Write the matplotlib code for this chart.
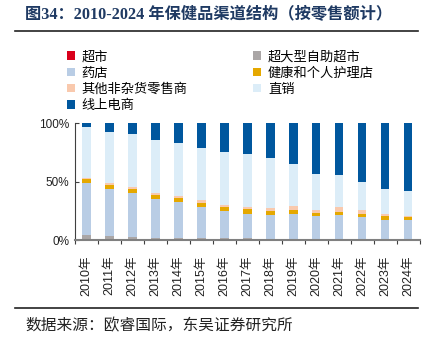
import matplotlib
matplotlib.use("Agg")
import matplotlib.pyplot as plt
from matplotlib.lines import Line2D
from matplotlib.patches import Patch
import numpy as np

plt.rcParams['font.family'] = ['Liberation Sans', 'Noto Sans CJK SC', 'DejaVu Sans']

years = [str(y) + '年' for y in range(2010, 2025)]
channels = ['超市', '超大型自助超市', '药店', '健康和个人护理店', '其他非杂货零售商', '直销', '线上电商']
colors = ['#d9001b', '#aaa6a6', '#b9cde5', '#e5a800', '#f9c9ad', '#dcedf8', '#00579e']

supermarket = [0.6, 0.5, 0.5, 0.4, 0.4, 0.4, 0.3, 0.3, 0.3, 0.3, 0.3, 0.3, 0.3, 0.3, 0.3]
hypermarket = [3.4, 2.9, 2.1, 1.8, 1.4, 1.2, 1.2, 1.1, 1.0, 0.9, 0.9, 0.9, 0.9, 0.8, 0.8]
pharmacy = [45.0, 40.0, 38.0, 33.2, 30.5, 27.0, 23.1, 21.2, 20.4, 21.4, 19.4, 19.9, 18.2, 16.3, 16.3]
health_store = [3.4, 3.5, 3.4, 3.5, 4.0, 3.4, 3.4, 3.7, 3.4, 3.4, 2.5, 3.2, 3.2, 2.9, 2.6]
other_retail = [1.1, 1.7, 1.2, 1.1, 1.1, 2.0, 1.7, 2.3, 2.6, 2.9, 2.9, 3.7, 2.8, 1.7, 0.9]
direct_sales = [43.5, 43.4, 45.4, 45.7, 45.2, 44.9, 46.0, 44.8, 42.6, 36.0, 30.9, 27.4, 24.6, 21.4, 21.1]
online = [3.0, 8.0, 9.4, 14.3, 17.4, 21.1, 24.3, 26.6, 29.7, 35.1, 43.1, 44.6, 50.0, 56.6, 58.0]

series = [supermarket, hypermarket, pharmacy, health_store, other_retail, direct_sales, online]

fig = plt.figure(figsize=(4.24, 3.42), dpi=100)
ax = fig.add_axes([0.177, 0.298, 0.813, 0.342])

x = np.arange(len(years))
bottom = np.zeros(len(years))
handles = []
for name, vals, c in zip(channels, series, colors):
    ax.bar(x, vals, width=0.36, bottom=bottom, color=c, label=name)
    bottom += np.array(vals)
    handles.append(Patch(facecolor=c, label=name))

ax.set_xlim(-0.5, len(years) - 0.5)
ax.set_ylim(0, 100)
ax.set_yticks([0, 50, 100])
ax.set_yticklabels(['0%', '50%', '100%'], fontsize=8.5, color='#222222')
ax.tick_params(axis='y', direction='in', length=3, width=0.8, color='#404040', pad=4)

ax.set_xticks(x)
ax.set_xticklabels(years, rotation=90, fontsize=9, color='#222222')
ax.tick_params(axis='x', length=0, pad=11)
ax.set_xticks(np.arange(len(years) + 1) - 0.5, minor=True)
ax.tick_params(axis='x', which='minor', direction='out', length=3, width=0.8, color='#404040')

for s in ['top', 'right']:
    ax.spines[s].set_visible(False)
ax.spines['left'].set_color('#404040')
ax.spines['left'].set_linewidth(0.8)
ax.spines['bottom'].set_color('#808080')
ax.spines['bottom'].set_linewidth(1.5)

# legend filled column-wise, so reorder to read row by row
order = [0, 2, 4, 6, 1, 3, 5]
fig.legend([handles[i] for i in order], [channels[i] for i in order],
           ncol=2, loc='upper left', bbox_to_anchor=(0.13, 0.888), frameon=False,
           handlelength=0.6, handleheight=0.6, handletextpad=0.5,
           columnspacing=5.0, labelspacing=0.25, prop={'family': ['Noto Sans CJK SC'], 'size': 9.5})

fig.text(0.059, 0.958, '图34：2010-2024 年保健品渠道结构（按零售额计）', fontsize=11.7, fontweight='bold',
         color='#1f3a63', va='center', family=['Liberation Serif', 'Noto Sans CJK SC'])
fig.add_artist(Line2D([0.035, 0.986], [0.909, 0.909], color='#222222', linewidth=1.2))
fig.add_artist(Line2D([0.035, 0.986], [0.099, 0.099], color='#222222', linewidth=1.2))
fig.text(0.059, 0.048, '数据来源：欧睿国际，东吴证券研究所', fontsize=11.3, color='#222222',
         va='center', family=['Noto Sans CJK SC'])

fig.savefig('out.png', dpi=100)
